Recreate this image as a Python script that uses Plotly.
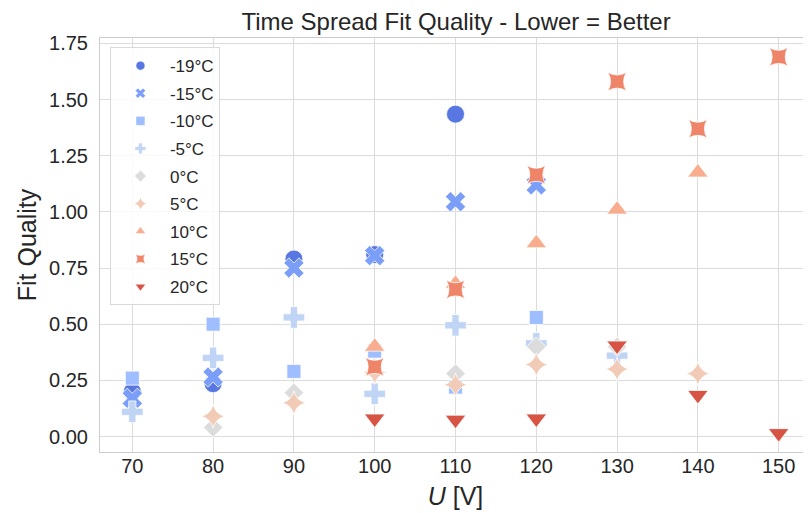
import plotly.graph_objects as go

U = [70, 80, 90, 100, 110, 120, 130, 140, 150]
labels = ["-19°C", "-15°C", "-10°C", "-5°C", "0°C", "5°C", "10°C", "15°C", "20°C"]
q_m19 = [0.20, 0.235, 0.79, 0.81, 1.435, None, None, None, None]
q_m15 = [0.17, 0.265, 0.75, 0.805, 1.045, 1.12, None, None, None]
q_m10 = [0.26, 0.50, 0.29, 0.38, 0.22, 0.53, None, None, None]
q_m5 = [0.11, 0.35, 0.53, 0.19, 0.495, 0.415, 0.36, None, None]
q_0 = [None, 0.04, 0.195, None, 0.28, 0.40, 0.40, None, None]
q_5 = [None, 0.09, 0.15, 0.285, 0.23, 0.32, 0.30, 0.28, None]
q_10 = [None, None, None, 0.40, 0.68, 0.86, 1.01, 1.175, None]
q_15 = [None, None, None, 0.31, 0.655, 1.165, 1.58, 1.37, 1.69]
q_20 = [None, None, None, 0.08, 0.075, 0.08, 0.405, 0.185, 0.015]
series = [q_m19, q_m15, q_m10, q_m5, q_0, q_5, q_10, q_15, q_20]

colors = ["#5977e3", "#7b9ff9", "#9ebeff", "#c0d4f5", "#dddcdc",
          "#f2cbb7", "#f7ad8e", "#ee8468", "#d75344"]
symbols = ["circle", "x", "square", "cross", "diamond",
           "star-diamond", "triangle-up", "star-square", "triangle-down"]
sizes = [18, 18, 14, 18, 15, 17, 18, 17, 18]

fig = go.Figure()
for i, (lab, vals) in enumerate(zip(labels, series)):
    fig.add_trace(go.Scatter(
        x=U, y=vals, mode="markers", name=lab, showlegend=False,
        marker=dict(symbol=symbols[i], color=colors[i], size=sizes[i],
                    line=dict(color="white", width=0.8)),
    ))
for i, lab in enumerate(labels):
    fig.add_trace(go.Scatter(
        x=[None], y=[None], mode="markers", name=lab, legendgroup=lab,
        marker=dict(symbol=symbols[i], color=colors[i], size=9,
                    line=dict(color="white", width=0.5)),
    ))

font = "Arial, Liberation Sans, sans-serif"
fig.update_layout(
    width=803, height=505,
    margin=dict(l=92, r=0, t=30, b=61),
    paper_bgcolor="white", plot_bgcolor="white",
    font=dict(family=font, color="#262626"),
    title=dict(text="Time Spread Fit Quality - Lower = Better",
               x=0.558, xanchor="center", y=0.973, yanchor="middle",
               font=dict(size=24, color="#262626")),
    legend=dict(x=0.014, y=0.978, xanchor="left", yanchor="top",
                bordercolor="#d9d9d9", borderwidth=1, bgcolor="rgba(255,255,255,0.85)",
                font=dict(size=17, color="#262626"), tracegroupgap=2.5,
                itemwidth=49),
    xaxis=dict(range=[66.0, 154.0], dtick=10, tick0=70,
               showgrid=True, gridcolor="#dcdcdc", gridwidth=1,
               showline=True, linecolor="#cccccc", mirror=True, zeroline=False,
               ticks="", ticklabelstandoff=-4,
               tickfont=dict(size=20, color="#262626"),
               title=dict(text="<i>U</i> [V]", font=dict(size=25, color="#262626"), standoff=11)),
    yaxis=dict(range=[-0.069, 1.774], dtick=0.25, tick0=0, tickformat=".2f",
               showgrid=True, gridcolor="#dcdcdc", gridwidth=1,
               showline=True, linecolor="#cccccc", mirror=True, zeroline=False,
               ticks="", ticklabelstandoff=7,
               tickfont=dict(size=20, color="#262626"),
               title=dict(text="Fit Quality", font=dict(size=25, color="#262626"), standoff=5)),
)
fig.write_html("out.html")
